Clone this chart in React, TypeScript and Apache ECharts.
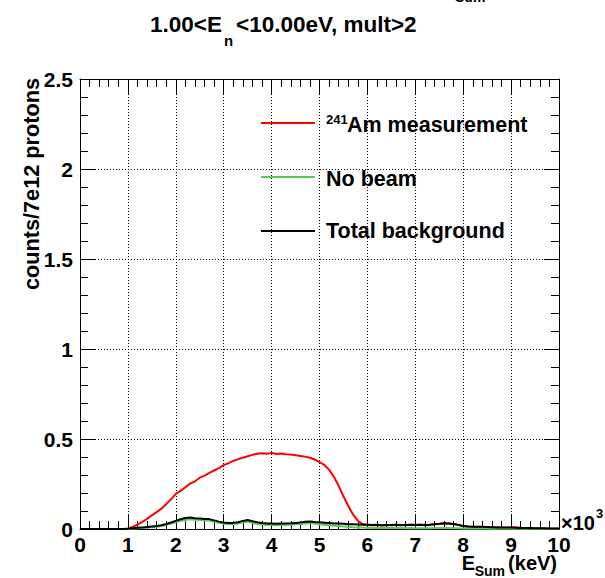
import React, { useEffect, useRef } from "react";
import * as echarts from "echarts";

const BIN_WIDTH = 0.1; // ×10^3 keV
const X_TICKS = [0, 1, 2, 3, 4, 5, 6, 7, 8, 9, 10];
const Y_TICKS = [0, 0.5, 1, 1.5, 2, 2.5];

const AM_MEASUREMENT = [
  0, 0, 0, 0, 0, 0, 0, 0, 0, 0,
  0.003, 0.012, 0.024, 0.040, 0.056, 0.076, 0.094, 0.113, 0.138, 0.165,
  0.195, 0.212, 0.232, 0.252, 0.265, 0.285, 0.297, 0.312, 0.325, 0.338,
  0.355, 0.366, 0.378, 0.388, 0.396, 0.404, 0.412, 0.418, 0.421, 0.418,
  0.423, 0.417, 0.419, 0.415, 0.414, 0.410, 0.406, 0.402, 0.396, 0.386,
  0.372, 0.356, 0.330, 0.290, 0.240, 0.182, 0.128, 0.080, 0.046, 0.028,
  0.022, 0.021, 0.022, 0.020, 0.022, 0.021, 0.023, 0.022, 0.021, 0.024,
  0.022, 0.023, 0.021, 0.024, 0.026, 0.028, 0.031, 0.030, 0.027, 0.022,
  0.016, 0.014, 0.012, 0.011, 0.012, 0.010, 0.009, 0.008, 0.008, 0.007,
  0.007, 0.010, 0.005, 0.004, 0.004, 0.003, 0.003, 0.002, 0.002, 0.002,
  0.001,
];

const NO_BEAM = [
  0, 0, 0, 0, 0, 0, 0, 0, 0, 0,
  0.000, 0.002, 0.004, 0.006, 0.008, 0.010, 0.013, 0.017, 0.023, 0.030,
  0.037, 0.045, 0.051, 0.054, 0.052, 0.050, 0.048, 0.046, 0.040, 0.034,
  0.029, 0.027, 0.028, 0.031, 0.037, 0.041, 0.034, 0.028, 0.025, 0.023,
  0.022, 0.021, 0.022, 0.023, 0.024, 0.026, 0.028, 0.031, 0.033, 0.030,
  0.027, 0.024, 0.021, 0.018, 0.016, 0.014, 0.012, 0.010, 0.009, 0.008,
  0.007, 0.006, 0.006, 0.005, 0.006, 0.005, 0.005, 0.005, 0.004, 0.005,
  0.004, 0.004, 0.004, 0.004, 0.005, 0.005, 0.005, 0.005, 0.004, 0.004,
  0.003, 0.003, 0.003, 0.003, 0.003, 0.003, 0.002, 0.002, 0.002, 0.002,
  0.002, 0.002, 0.002, 0.002, 0.001, 0.001, 0.001, 0.001, 0.001, 0.001,
  0.001,
];

const TOTAL_BACKGROUND = [
  0, 0, 0, 0, 0, 0, 0, 0, 0, 0,
  0.001, 0.004, 0.007, 0.009, 0.011, 0.014, 0.017, 0.021, 0.028, 0.036,
  0.045, 0.054, 0.061, 0.064, 0.060, 0.058, 0.056, 0.055, 0.048, 0.041,
  0.036, 0.034, 0.034, 0.038, 0.045, 0.050, 0.043, 0.037, 0.033, 0.031,
  0.030, 0.029, 0.030, 0.031, 0.032, 0.034, 0.036, 0.040, 0.042, 0.039,
  0.037, 0.035, 0.033, 0.031, 0.030, 0.029, 0.027, 0.026, 0.025, 0.024,
  0.023, 0.022, 0.023, 0.021, 0.022, 0.022, 0.023, 0.021, 0.022, 0.024,
  0.022, 0.023, 0.022, 0.024, 0.027, 0.029, 0.032, 0.031, 0.028, 0.023,
  0.017, 0.014, 0.013, 0.012, 0.012, 0.011, 0.010, 0.009, 0.009, 0.008,
  0.008, 0.007, 0.006, 0.005, 0.005, 0.004, 0.004, 0.004, 0.003, 0.003,
  0.003,
];

const FONT = "'Liberation Sans', Arial, Helvetica, sans-serif";
const RED = "#ff0000";
const GREEN = "#55cc55";
const BLACK = "#000000";

const toPairs = (vals: number[]) =>
  vals.map((v, i) => [Math.round(i * BIN_WIDTH * 10) / 10, v]);

export default function App() {
  const ref = useRef<HTMLDivElement>(null);

  useEffect(() => {
    if (!ref.current) return;
    const chart = echarts.init(ref.current, undefined, { renderer: "svg" });

    const tickStyle = { color: BLACK, width: 1 };
    const baseX = {
      type: "value" as const,
      min: X_TICKS[0],
      max: X_TICKS[X_TICKS.length - 1],
      interval: 1,
      axisLine: { show: true, onZero: false, lineStyle: tickStyle },
      axisTick: { show: true, inside: true, length: 15, lineStyle: tickStyle },
      minorTick: { show: true, splitNumber: 5, length: 8, lineStyle: tickStyle },
    };
    const baseY = {
      type: "value" as const,
      min: Y_TICKS[0],
      max: Y_TICKS[Y_TICKS.length - 1],
      interval: 0.5,
      axisLine: { show: true, onZero: false, lineStyle: tickStyle },
      axisTick: { show: true, inside: true, length: 15, lineStyle: tickStyle },
      minorTick: { show: true, splitNumber: 5, length: 8, lineStyle: tickStyle },
    };
    const labelStyle = {
      fontFamily: FONT,
      fontWeight: "bold" as const,
      fontSize: 21,
      color: BLACK,
    };
    const gridLine = { show: true, lineStyle: { color: BLACK, width: 1, type: [1, 2] as any } };

    const txt = (
      x: number,
      y: number,
      text: string,
      size: number,
      align: string = "left",
      extra: any = {}
    ) => ({
      type: "text",
      x,
      y,
      silent: true,
      z: 100,
      ...extra,
      style: {
        text,
        fontFamily: FONT,
        fontWeight: "bold",
        fontSize: size,
        fill: BLACK,
        align,
        verticalAlign: "middle",
      },
    });

    const legendLine = (y: number, color: string) => ({
      type: "line",
      silent: true,
      z: 100,
      shape: { x1: 261, y1: y, x2: 315, y2: y },
      style: { stroke: color, lineWidth: 2 },
    });

    chart.setOption({
      animation: false,
      backgroundColor: "#ffffff",
      grid: { left: 80, top: 79, width: 479, height: 450 },
      xAxis: [
        {
          ...baseX,
          position: "bottom",
          axisLabel: {
            ...labelStyle,
            margin: 5,
            showMinLabel: true,
            showMaxLabel: true,
            formatter: (v: number) => String(v),
          },
          splitLine: gridLine,
        },
        {
          ...baseX,
          position: "top",
          axisLabel: { show: false },
          splitLine: { show: false },
        },
      ],
      yAxis: [
        {
          ...baseY,
          position: "left",
          axisLabel: {
            ...labelStyle,
            margin: 7,
            showMinLabel: true,
            showMaxLabel: true,
            formatter: (v: number) => String(v),
          },
          splitLine: gridLine,
        },
        {
          ...baseY,
          position: "right",
          axisLabel: { show: false },
          splitLine: { show: false },
        },
      ],
      series: [
        {
          name: "241Am measurement",
          type: "line",
          data: toPairs(AM_MEASUREMENT),
          showSymbol: false,
          lineStyle: { color: RED, width: 2 },
          itemStyle: { color: RED },
          z: 3,
        },
        {
          name: "No beam",
          type: "line",
          data: toPairs(NO_BEAM),
          showSymbol: false,
          lineStyle: { color: GREEN, width: 2 },
          itemStyle: { color: GREEN },
          z: 4,
        },
        {
          name: "Total background",
          type: "line",
          data: toPairs(TOTAL_BACKGROUND),
          showSymbol: false,
          lineStyle: { color: BLACK, width: 2 },
          itemStyle: { color: BLACK },
          z: 5,
        },
      ],
      graphic: [
        // cut-off text at the very top
        txt(455, -3, "Sum", 14),
        // title
        txt(150, 24, "1.00<E", 22.5),
        txt(224, 40, "n", 15),
        txt(236, 24, "<10.00eV, mult>2", 22.5),
        // legend
        legendLine(123, RED),
        legendLine(177, GREEN),
        legendLine(231, BLACK),
        txt(326, 119, "241", 13),
        txt(347, 125, "Am measurement", 21.5),
        txt(326, 179, "No beam", 21.5),
        txt(326, 231, "Total background", 21.5),
        // y axis title (rotated)
        txt(31, 78, "counts/7e12 protons", 21.7, "right", { rotation: Math.PI / 2 }),
        // x axis title
        txt(557, 563, "(keV)", 20, "right"),
        txt(505, 571, "Sum", 14, "right"),
        txt(475, 563, "E", 20, "right"),
        // exponent
        txt(561, 523, "×10", 20),
        txt(596, 513, "3", 13),
      ],
    });

    return () => chart.dispose();
  }, []);

  return (
    <div
      ref={ref}
      style={{ position: "absolute", left: 0, top: 0, width: 605, height: 578, background: "#fff" }}
    />
  );
}
